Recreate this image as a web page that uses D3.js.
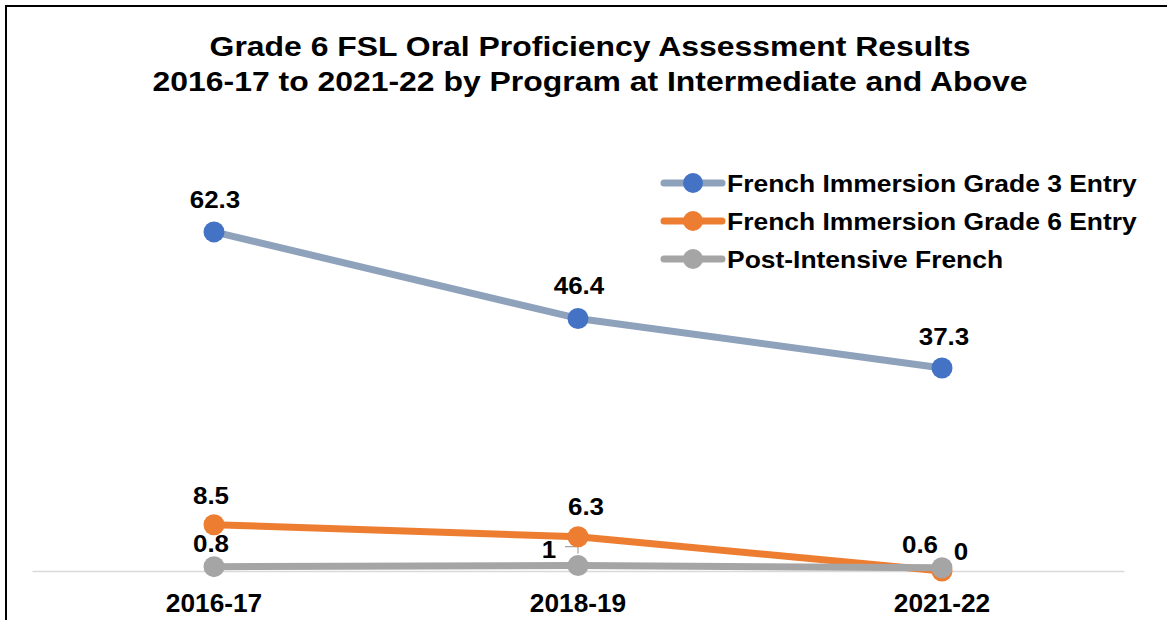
<!DOCTYPE html>
<html lang="en">
<head>
<meta charset="UTF-8">
<title>Grade 6 FSL Oral Proficiency</title>
<style>
    body { margin: 0; background: #fff; overflow: hidden; }
    svg { display: block; }
    text { font-family: "Liberation Sans", Arial, sans-serif; font-weight: bold; fill: #000; }
</style>
</head>
<body>
<svg id="chart" width="1167" height="620"></svg>
<script src="https://d3js.org/d3.v7.min.js"></script>
<script>
    // chart data
    const years = ["2016-17", "2018-19", "2021-22"];
    const seriesNames = ["French Immersion Grade 3 Entry", "French Immersion Grade 6 Entry", "Post-Intensive French"];
    const grade3Entry = [62.3, 46.4, 37.3];
    const grade6Entry = [8.5, 6.3, 0];
    const postIntensive = [0.8, 1, 0.6];
    const titleLines = ["Grade 6 FSL Oral Proficiency Assessment Results",
                        "2016-17 to 2021-22 by Program at Intermediate and Above"];

    const styles = [
        {line: "#8fa2bc", dot: "#4472c4"},
        {line: "#ed7d31", dot: "#ed7d31"},
        {line: "#a5a5a5", dot: "#a5a5a5"}
    ];
    // data label offsets [dx, dy] from the point, by series then year
    const labelOffsets = [
        [[1, -24], [1, -24], [2, -23]],
        [[-3, -21], [8, -22], [19, -11]],
        [[-3, -15], [-29, -8], [-22, -15]]
    ];

    const svg = d3.select("#chart");
    const values = [grade3Entry, grade6Entry, postIntensive];

    const x = d3.scaleBand().domain(years).range([32, 1124]);
    const y = d3.scaleLinear().domain([0, 70]).range([571, 190]);
    const cx = d => x(d) + x.bandwidth() / 2;

    // text in the original is a bit wider than Liberation Sans
    const stretch = (sel, px, py, sx) => sel.attr("transform", (d, i) => `translate(${px(d, i)},${py(d, i)}) scale(${sx},1)`);

    // frame
    svg.append("path")
        .attr("d", "M6,620 V6 H1167")
        .attr("fill", "none")
        .attr("stroke", "#000")
        .attr("stroke-width", 2);

    // title
    svg.append("g").selectAll("text")
        .data(titleLines)
        .join("text")
        .call(stretch, () => 590, (d, i) => 56 + i * 35, 1.14)
        .attr("text-anchor", "middle")
        .style("font-size", "28px")
        .text(d => d);

    // baseline axis
    const xAxis = d3.axisBottom(x).tickSize(0).tickPadding(23);
    const axisG = svg.append("g")
        .attr("transform", `translate(0,${y(0)})`)
        .call(xAxis);
    axisG.select(".domain").attr("stroke", "#d9d9d9").attr("stroke-width", 1.5);
    axisG.selectAll(".tick text")
        .attr("transform", "scale(1.05,1)")
        .style("font-size", "25px")
        .style("font-family", "Liberation Sans, Arial, sans-serif")
        .attr("fill", "#000");

    const line = d3.line().x((d, i) => cx(years[i])).y(d => y(d));

    // leader lines (label connectors)
    const leaders = svg.append("g").attr("stroke", "#a5a5a5").attr("stroke-width", 1.2).attr("fill", "none");
    leaders.append("path").attr("d", `M${cx(years[0]) - 3},${y(grade6Entry[0]) - 8} L${cx(years[0]) - 1},${y(grade6Entry[0]) + 2}`);
    leaders.append("path").attr("d", `M${cx(years[1]) - 13},${y(postIntensive[1]) - 19} H${cx(years[1])} V${y(postIntensive[1]) - 12}`);

    values.forEach((vals, s) => {
        const g = svg.append("g");
        g.append("path")
            .datum(vals)
            .attr("d", line)
            .attr("fill", "none")
            .attr("stroke", styles[s].line)
            .attr("stroke-width", 7)
            .attr("stroke-linejoin", "round");
        g.selectAll("circle")
            .data(vals)
            .join("circle")
            .attr("cx", (d, i) => cx(years[i]))
            .attr("cy", d => y(d))
            .attr("r", 10.5)
            .attr("fill", styles[s].dot);
    });

    // data labels
    values.forEach((vals, s) => {
        svg.append("g").selectAll("text")
            .data(vals)
            .join("text")
            .call(stretch, (d, i) => cx(years[i]) + labelOffsets[s][i][0], (d, i) => y(d) + labelOffsets[s][i][1], 1.13)
            .attr("text-anchor", "middle")
            .style("font-size", "23px")
            .text(d => d);
    });

    // legend
    const legend = svg.append("g").attr("transform", "translate(664,183)");
    const rows = legend.selectAll("g")
        .data(seriesNames)
        .join("g")
        .attr("transform", (d, i) => `translate(0,${i * 38})`);
    rows.append("line")
        .attr("x1", 0).attr("x2", 58)
        .attr("stroke", (d, i) => styles[i].line)
        .attr("stroke-width", 7)
        .attr("stroke-linecap", "round");
    rows.append("circle")
        .attr("cx", 29)
        .attr("r", 10)
        .attr("fill", (d, i) => styles[i].dot);
    rows.append("text")
        .call(stretch, () => 63, () => 9, 1.15)
        .style("font-size", "23px")
        .text(d => d);
</script>
</body>
</html>
